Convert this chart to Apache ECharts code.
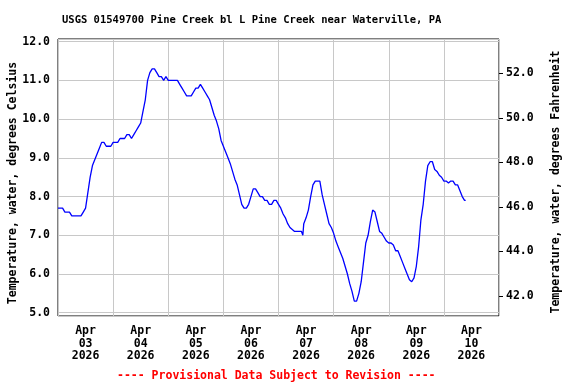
<!DOCTYPE html>
<html><head><meta charset="utf-8">
<script src="https://cdn.jsdelivr.net/npm/echarts@6/dist/echarts.min.js"></script>
<style>html,body{margin:0;padding:0;background:#fff}#c{width:576px;height:384px}</style>
</head><body><div id="c"></div>
<script>
const titleText = 'USGS 01549700 Pine Creek bl L Pine Creek near Waterville, PA';
const footText = '---- Provisional Data Subject to Revision ----';
const leftName = 'Temperature, water, degrees Celsius';
const rightName = 'Temperature, water, degrees Fahrenheit';
const monthLabel = 'Apr';
const yearLabel = '2026';
const dayLabels = ['03','04','05','06','07','08','09','10'];

// hours since Apr 03 2026 00:00
const hours = [
  0,1,2,3,4,5,6,7,8,9,10,11,12,
  13,14,15,16,17,18,19,20,21,22,23,24,
  25,26,27,28,29,30,31,32,33,34,35,36,
  37,38,39,40,41,42,43,44,45,46,47,48,
  49,50,51,52,53,54,55,56,57,58,59,60,
  61,62,63,64,65,66,67,68,69,70,71,72,
  73,74,75,76,77,78,79,80,81,82,83,84,
  85,86,87,88,89,90,91,92,93,94,95,96,
  97,98,99,100,101,102,103,104,105,106,
  106.6,
  107,108,109,110,111,112,113,114,115,116,117,118,
  119,120,121,122,123,124,125,126,127,128,129,130,
  131,132,133,134,135,136,137,
  137.5,
  138,139,140,141,142,143,144,145,146,147,148,149,
  150,151,152,153,154,155,156,157,158,159,160,161,
  162,163,164,165,166,167,168,169,170,171,172,173,
  174,175,176,177,
  177.5
];
const tempC = [
  7.7,7.7,7.7,7.6,7.6,7.6,7.5,7.5,7.5,7.5,7.5,7.6,7.7,
  8.1,8.5,8.8,8.95,9.1,9.25,9.4,9.4,9.3,9.3,9.3,9.4,
  9.4,9.4,9.5,9.5,9.5,9.6,9.6,9.5,9.6,9.7,9.8,9.9,
  10.2,10.5,11.0,11.2,11.3,11.3,11.2,11.1,11.1,11.0,11.1,11.0,
  11.0,11.0,11.0,11.0,10.9,10.8,10.7,10.6,10.6,10.6,10.7,10.8,
  10.8,10.9,10.8,10.7,10.6,10.5,10.3,10.1,9.95,9.75,9.45,9.3,
  9.15,9.0,8.85,8.65,8.45,8.3,8.05,7.8,7.7,7.7,7.8,8.0,
  8.2,8.2,8.1,8.0,8.0,7.9,7.9,7.8,7.8,7.9,7.9,7.8,
  7.7,7.55,7.45,7.3,7.2,7.15,7.1,7.1,7.1,7.1,
  7.0,
  7.3,7.45,7.65,8.0,8.3,8.4,8.4,8.4,8.05,7.8,7.55,7.3,
  7.2,7.05,6.85,6.7,6.55,6.4,6.2,6.0,5.75,5.55,5.3,5.3,
  5.5,5.8,6.3,6.8,7.0,7.35,7.65,
  7.7,
  7.6,7.35,7.1,7.05,6.95,6.85,6.8,6.8,6.75,6.6,6.6,6.45,
  6.3,6.15,6.0,5.85,5.8,5.9,6.2,6.7,7.4,7.8,8.4,8.8,
  8.9,8.9,8.7,8.65,8.55,8.5,8.4,8.4,8.35,8.4,8.4,8.3,
  8.3,8.15,8.0,7.9,
  7.9
];

const FONT = 'DejaVu Sans Mono';
const chart = echarts.init(document.getElementById('c'), null, {renderer: 'canvas'});
chart.setOption({
  animation: false,
  backgroundColor: '#fff',
  title: {
    text: titleText, left: 57, top: 10,
    textStyle: {fontFamily: FONT, fontWeight: 'bold', fontSize: 10.5, color: '#000'}
  },
  graphic: [{
    type: 'text', left: 117, top: 370,
    style: {text: footText, fill: '#ff0000', font: 'bold 11.5px "DejaVu Sans Mono"'}
  }],
  grid: {left: 58, right: 77, top: 39, bottom: 68, containLabel: false, outerBoundsMode: 'none',
    show: true, borderColor: '#000', borderWidth: 1, backgroundColor: 'transparent'},
  xAxis: [
    {type: 'value', min: 0, max: 192, show: false},
    {type: 'category', data: dayLabels, boundaryGap: true, position: 'bottom',
     axisLine: {show: false}, axisTick: {show: false},
     splitLine: {show: true, interval: 0, lineStyle: {color: '#c8c8c8', width: 1}},
     axisLabel: {interval: 0, margin: 9, lineHeight: 12.5, color: '#000',
       fontFamily: FONT, fontWeight: 'bold', fontSize: 11.5,
       formatter: v => monthLabel + '\n' + v + '\n' + yearLabel}}
  ],
  yAxis: [
    {type: 'value', min: 4.915, max: 12.07, minInterval: 1, maxInterval: 1, position: 'left',
     name: leftName, nameLocation: 'middle', nameRotate: 90, nameGap: 39, nameMoveOverlap: false,
     nameTextStyle: {fontFamily: FONT, fontWeight: 'bold', fontSize: 11.5, color: '#000', padding: [0, 11, 0, 0]},
     axisLine: {show: false}, axisTick: {show: false},
     splitLine: {show: true, lineStyle: {color: '#c8c8c8', width: 1}},
     axisLabel: {margin: 8, color: '#000', fontFamily: FONT, fontWeight: 'bold', fontSize: 11.5,
       showMinLabel: false, showMaxLabel: false, formatter: v => v.toFixed(1)}},
    {type: 'value', min: 41.09, max: 53.54, minInterval: 2, maxInterval: 2, position: 'right',
     name: rightName, nameLocation: 'middle', nameRotate: 90, nameGap: 51, nameMoveOverlap: false,
     nameTextStyle: {fontFamily: FONT, fontWeight: 'bold', fontSize: 11.5, color: '#000', padding: [0, 9, 0, 0]},
     axisLine: {show: false},
     axisTick: {show: true, inside: false, length: 4, lineStyle: {color: '#000'}},
     splitLine: {show: false},
     axisLabel: {margin: 7, color: '#000', fontFamily: FONT, fontWeight: 'bold', fontSize: 11.5,
       showMinLabel: false, showMaxLabel: false, formatter: v => v.toFixed(1)}}
  ],
  series: [{
    type: 'line', xAxisIndex: 0, yAxisIndex: 0,
    data: hours.map((h, i) => [h, tempC[i]]),
    showSymbol: false, symbol: 'none',
    lineStyle: {color: '#0000ff', width: 1.3},
    z: 5
  }]
});
</script>
</body></html>
